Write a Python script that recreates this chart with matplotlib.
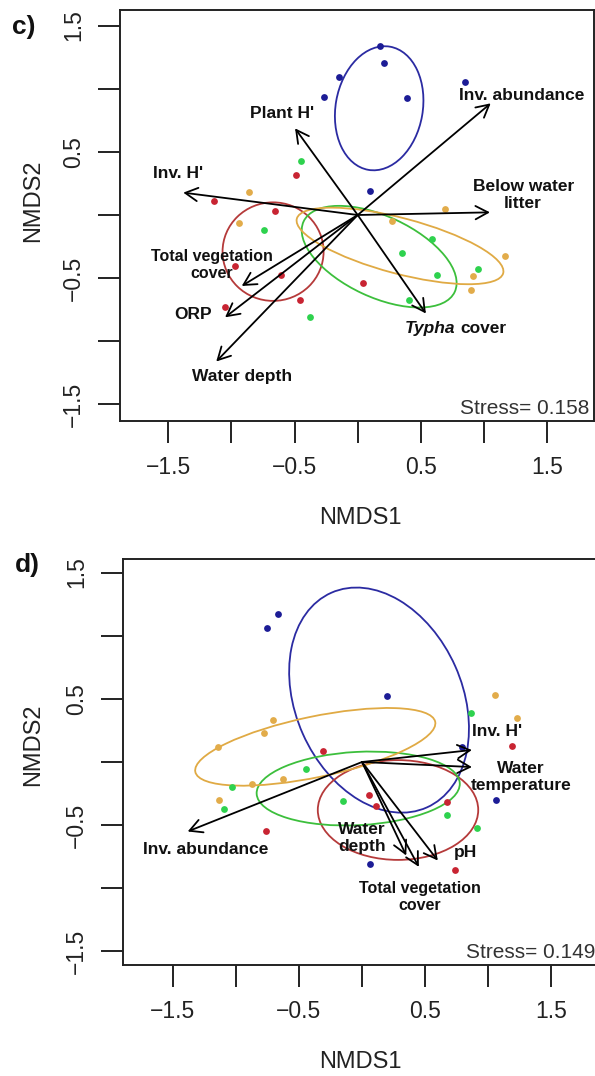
import numpy as np
import matplotlib.pyplot as plt
from matplotlib.patches import Ellipse

plt.rcParams['font.family'] = ['Liberation Sans', 'DejaVu Sans']

# ---- panel c: site scores per group ----
c_blue_x = [0.177, 0.206, -0.15, -0.264, 0.39, 0.85, 0.097]
c_blue_y = [1.34, 1.20, 1.09, 0.937, 0.93, 1.055, 0.19]
c_red_x = [-0.49, -1.14, -0.655, -0.97, -0.61, -0.46, -1.05, 0.045]
c_red_y = [0.32, 0.11, 0.03, -0.40, -0.475, -0.67, -0.73, -0.54]
c_green_x = [-0.446, -0.74, 0.59, 0.35, 0.95, 0.63, 0.41, -0.38]
c_green_y = [0.43, -0.12, -0.19, -0.30, -0.43, -0.475, -0.67, -0.81]
c_orange_x = [-0.86, -0.94, 0.69, 0.27, 1.17, 0.915, 0.90]
c_orange_y = [0.18, -0.06, 0.05, -0.045, -0.325, -0.48, -0.59]

# group ellipses: centre x, centre y, width, height, angle
c_ell_blue = (0.17, 0.845, 0.99, 0.69, 80)
c_ell_red = (-0.67, -0.29, 0.80, 0.78, 0)
c_ell_green = (0.17, -0.33, 1.32, 0.64, -25)
c_ell_orange = (0.335, -0.245, 1.69, 0.44, -14.8)

# envfit vectors
c_vec_names = ["Plant H'", "Inv. abundance", "Inv. H'", "Below water\nlitter",
               "Total vegetation\ncover", "ORP", "Water depth", "Typha cover"]
c_vec_x = [-0.496, 1.053, -1.381, 1.047, -0.918, -1.05, -1.12, 0.54]
c_vec_y = [0.686, 0.884, 0.177, 0.021, -0.562, -0.81, -1.16, -0.78]
c_lab_x = [-0.60, 1.30, -1.42, 1.31, -1.156, -1.30, -0.918, 0.79]
c_lab_y = [0.805, 0.95, 0.33, 0.158, -0.396, -0.79, -1.28, -0.897]
c_stress = 0.158

# ---- panel d ----
d_blue_x = [-0.667, -0.755, 0.20, 0.795, 1.06, 0.06]
d_blue_y = [1.17, 1.06, 0.52, 0.12, -0.30, -0.81]
d_red_x = [-0.306, 1.185, 0.055, 0.675, 0.11, -0.76, 0.74]
d_red_y = [0.087, 0.13, -0.26, -0.32, -0.35, -0.55, -0.855]
d_green_x = [0.86, -0.443, -1.03, -1.09, -0.153, 0.67, 0.91]
d_green_y = [0.39, -0.055, -0.20, -0.375, -0.31, -0.42, -0.52]
d_orange_x = [1.05, 1.225, -0.707, -0.776, -1.14, -0.873, -0.628, -1.13]
d_orange_y = [0.53, 0.346, 0.33, 0.23, 0.12, -0.177, -0.135, -0.30]

d_ell_blue = (0.135, 0.49, 1.86, 1.32, 114)
d_ell_red = (0.285, -0.38, 1.27, 0.79, 0)
d_ell_green = (-0.03, -0.21, 1.61, 0.58, 3)
d_ell_orange = (-0.37, 0.12, 1.94, 0.48, 11.8)

d_vec_names = ["Inv. H'", "Water\ntemperature", "Inv. abundance", "Water\ndepth",
               "Total vegetation\ncover", "pH"]
d_vec_x = [0.87, 0.87, -1.38, 0.35, 0.45, 0.60]
d_vec_y = [0.095, -0.04, -0.55, -0.74, -0.83, -0.78]
d_lab_x = [1.07, 1.26, -1.235, 0.0, 0.46, 0.815]
d_lab_y = [0.24, -0.12, -0.69, -0.60, -1.07, -0.72]
d_stress = 0.149

ticks = [-1.5, -1, -0.5, 0, 0.5, 1, 1.5]
tick_labels = ['\u22121.5', '', '\u22120.5', '', '0.5', '', '1.5']

pt_cols = {'blue': '#1c1c96', 'red': '#c82432', 'green': '#2ed24e', 'orange': '#e2ac4a'}
ell_cols = {'blue': '#2b2ba2', 'red': '#b53a3a', 'green': '#3cbf3c', 'orange': '#e0aa44'}


def draw_panel(ax, pts, ells, names, vx, vy, lx, ly, stress, xlim, ylim):
    for key, (px, py) in pts.items():
        ax.scatter(px, py, s=24, color=pt_cols[key], zorder=3, linewidths=0)
    for key, (cx, cy, w, h, ang) in ells.items():
        ax.add_patch(Ellipse((cx, cy), w, h, angle=ang, fill=False,
                             ec=ell_cols[key], lw=1.3, zorder=2))
    for name, x, y, tx, ty in zip(names, vx, vy, lx, ly):
        ax.annotate('', xy=(x, y), xytext=(0, 0),
                    arrowprops=dict(arrowstyle='->,head_length=0.45,head_width=0.24',
                                    color='black', lw=1.3, mutation_scale=20,
                                    shrinkA=0, shrinkB=0), zorder=4)
        if name == 'Typha cover':
            ax.text(tx - 0.02, ty, 'Typha', ha='right', va='center', fontsize=12.5,
                    fontweight='bold', style='italic', color='#111111', zorder=5)
            ax.text(tx + 0.02, ty, 'cover', ha='left', va='center', fontsize=12.5,
                    fontweight='bold', color='#111111', zorder=5)
        else:
            fs = 11.5 if name.startswith('Total') else 12.5
            ax.text(tx, ty, name, ha='center', va='center', fontsize=fs,
                    fontweight='bold', color='#111111', zorder=5, linespacing=1.15)
    ax.text(0.99, 0.03, f'Stress= {stress}', transform=ax.transAxes, ha='right',
            va='center', fontsize=15, color='#333333')
    ax.set_xlim(*xlim)
    ax.set_ylim(*ylim)
    ax.set_xticks(ticks)
    ax.set_xticklabels(tick_labels)
    ax.set_yticks(ticks)
    ax.set_yticklabels(tick_labels, rotation=90, va='center')
    ax.tick_params(axis='both', length=16, width=1.4, labelsize=16.5, color='#222222',
                   labelcolor='#222222')
    ax.tick_params(axis='x', pad=9)
    ax.tick_params(axis='y', pad=9)
    for sp in ax.spines.values():
        sp.set_linewidth(1.4)
        sp.set_color('#222222')


W, H = 595, 1076
fig = plt.figure(figsize=(5.95, 10.76), dpi=100)
ax_c = fig.add_axes([120 / W, 1 - 421 / H, 474 / W, 411 / H])
ax_d = fig.add_axes([123 / W, 1 - 965 / H, 477 / W, 406 / H])

draw_panel(ax_c,
           {'blue': (c_blue_x, c_blue_y), 'red': (c_red_x, c_red_y),
            'green': (c_green_x, c_green_y), 'orange': (c_orange_x, c_orange_y)},
           {'blue': c_ell_blue, 'red': c_ell_red, 'green': c_ell_green, 'orange': c_ell_orange},
           c_vec_names, c_vec_x, c_vec_y, c_lab_x, c_lab_y, c_stress,
           (-1.882, 1.871), (-1.631, 1.623))
draw_panel(ax_d,
           {'blue': (d_blue_x, d_blue_y), 'red': (d_red_x, d_red_y),
            'green': (d_green_x, d_green_y), 'orange': (d_orange_x, d_orange_y)},
           {'blue': d_ell_blue, 'red': d_ell_red, 'green': d_ell_green, 'orange': d_ell_orange},
           d_vec_names, d_vec_x, d_vec_y, d_lab_x, d_lab_y, d_stress,
           (-1.892, 1.884), (-1.607, 1.607))

# axis titles and panel letters
for yb, ycen, letter, lx, ly in [(518, 201, 'c)', 24, 27), (1062, 745, 'd)', 27, 565)]:
    fig.text(360 / W, 1 - yb / H, 'NMDS1', ha='center', va='center', fontsize=17,
             color='#222222')
    fig.text(33 / W, 1 - ycen / H, 'NMDS2', ha='center', va='center', rotation=90,
             fontsize=17, color='#222222')
    fig.text(lx / W, 1 - ly / H, letter, ha='center', va='center', fontsize=19,
             fontweight='bold', color='#111111')

fig.savefig('out.png', dpi=100, facecolor='white')
